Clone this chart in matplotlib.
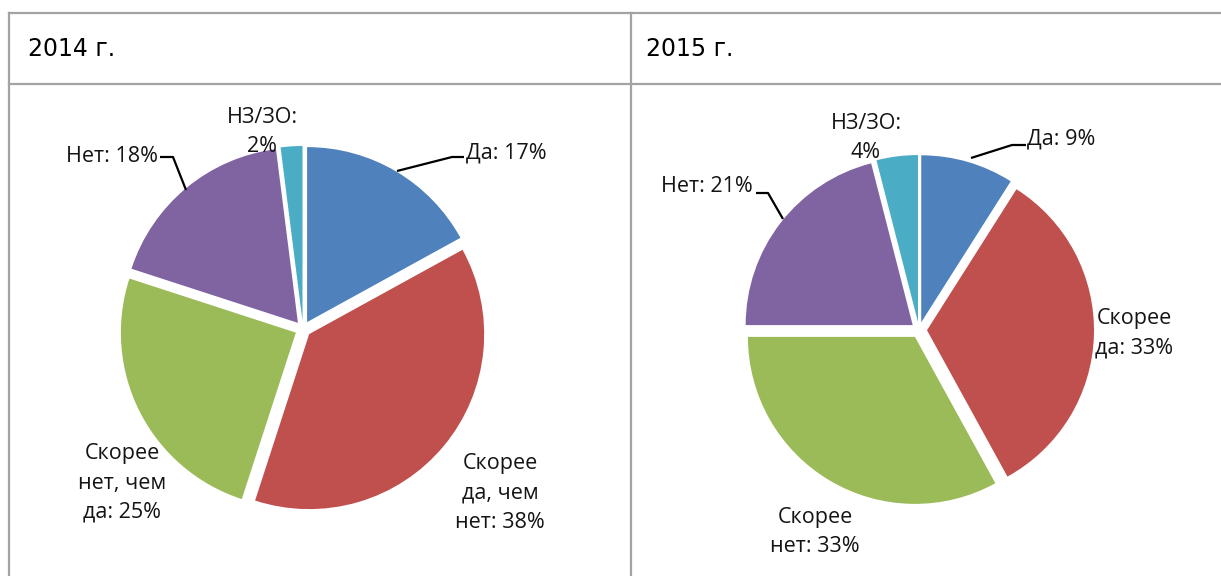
import matplotlib
matplotlib.use("Agg")
import matplotlib.pyplot as plt

# ---- data ----
years = ["2014 г.", "2015 г."]
labels_2014 = ["Да", "Скорее\nда, чем\nнет", "Скорее\nнет, чем\nда", "Нет", "НЗ/ЗО"]
values_2014 = [17, 38, 25, 18, 2]
labels_2015 = ["Да", "Скорее\nда", "Скорее\nнет", "Нет", "НЗ/ЗО"]
values_2015 = [9, 33, 33, 21, 4]
colors = ["#4F81BD", "#C0504D", "#9BBB59", "#8064A2", "#4BACC6"]

W, H = 1221, 576
fig = plt.figure(figsize=(W / 100, H / 100), dpi=100)
ax = fig.add_axes([0, 0, 1, 1])


def Y(y):
    return H - y


LABEL_FONT = ["Open Sans", "DejaVu Sans"]
LFS = 15.5
grid_c = "#A3A3A3"


def draw_pie(values, labels, center, radius, label_pos, leaders):
    # explode is in data units (pixels here)
    ax.pie(values, colors=colors, startangle=90, counterclock=False,
           center=(center[0], Y(center[1])), radius=radius,
           explode=[8] * len(values),
           wedgeprops=dict(linewidth=0))
    for lab, v, (x, y, ha) in zip(labels, values, label_pos):
        txt = f"{lab}:{chr(10) if lab.startswith('НЗ') else ' '}{v}%"
        ax.text(x, Y(y), txt, ha=ha, va="center", fontsize=LFS,
                family=LABEL_FONT, color="#141414", linespacing=1.5,
                multialignment="center" if ha == "center" else "left")
    for pts in leaders:
        ax.plot([p[0] for p in pts], [Y(p[1]) for p in pts],
                color="black", lw=1.6, solid_capstyle="butt")


# 2014
draw_pie(values_2014, labels_2014, (303, 329), 175,
         [(466, 153, "left"), (500, 493, "center"), (122, 483, "center"),
          (158, 156, "right"), (262, 132, "center")],
         [[(397, 171), (452, 157), (464, 157)],
          [(160, 157), (173, 157), (186, 190)]])

# 2015
draw_pie(values_2015, labels_2015, (919, 330), 167,
         [(1027, 139, "left"), (1134, 333, "center"), (815, 532, "center"),
          (753, 186, "right"), (866, 138, "center")],
         [[(971, 158), (1012, 145), (1026, 145)],
          [(756, 193), (768, 193), (783, 219)]])

# table grid
ax.plot([9, W], [Y(13), Y(13)], color=grid_c, lw=1.6)
ax.plot([9, W], [Y(84), Y(84)], color=grid_c, lw=1.6)
ax.plot([9, 9], [Y(13), Y(H)], color=grid_c, lw=1.6)
ax.plot([631, 631], [Y(13), Y(H)], color=grid_c, lw=1.6)

# headers
ax.text(28, Y(49), years[0], fontsize=17, family="DejaVu Sans", va="center", ha="left", color="black")
ax.text(646, Y(49), years[1], fontsize=17, family="DejaVu Sans", va="center", ha="left", color="black")

ax.set_xlim(0, W)
ax.set_ylim(0, H)
ax.set_aspect("equal")
ax.axis("off")
fig.savefig("out.png", dpi=100)
